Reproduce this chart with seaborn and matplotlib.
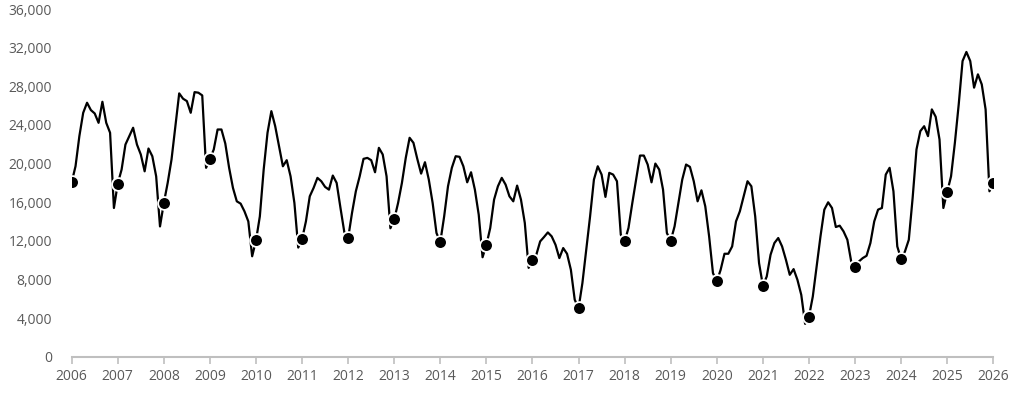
import numpy as np
import pandas as pd
import matplotlib
matplotlib.use("Agg")
import matplotlib.pyplot as plt
import seaborn as sns
from matplotlib.ticker import FuncFormatter

# monthly values, Jan 2006 .. Jan 2026 (one row per year)
values = [
    18060, 19720, 22840, 25260, 26300, 25540, 25190, 24220, 26400, 24220, 23190, 15400,  # 2006
    17930, 19380, 21970, 22840, 23710, 21970, 20940, 19200, 21560, 20760, 18680, 13490,  # 2007
    15920, 18000, 20420, 23870, 27270, 26720, 26470, 25260, 27400, 27340, 27060, 19560,  # 2008
    20490, 21460, 23530, 23530, 22080, 19560, 17480, 16090, 15850, 15050, 14010, 10400,  # 2009
    12040, 14530, 19380, 23190, 25430, 23870, 21800, 19720, 20350, 18680, 15920, 11300,  # 2010
    12190, 14010, 16610, 17480, 18520, 18170, 17580, 17300, 18760, 18000, 15400, 12900,  # 2011
    12290, 14880, 17130, 18680, 20490, 20590, 20350, 19100, 21630, 20940, 18680, 13300,  # 2012
    14220, 15920, 18000, 20590, 22670, 22150, 20490, 18960, 20140, 18340, 15920, 12810,  # 2013
    11880, 14530, 17650, 19560, 20760, 20700, 19720, 18060, 19100, 17300, 14710, 10300,  # 2014
    11590, 13330, 16270, 17650, 18520, 17820, 16610, 16090, 17720, 16270, 13850, 9200,   # 2015
    9970, 10560, 11940, 12390, 12870, 12460, 11590, 10210, 11250, 10660, 9000, 5900,     # 2016
    5020, 7620, 11080, 14530, 18340, 19720, 18860, 16550, 19040, 18860, 18170, 12630,    # 2017
    11940, 13330, 15920, 18340, 20830, 20830, 19900, 18060, 20000, 19380, 17300, 12810,  # 2018
    12010, 13490, 15920, 18340, 19900, 19660, 18170, 16090, 17230, 15570, 12460, 8660,   # 2019
    7790, 9000, 10660, 10660, 11420, 14010, 15050, 16610, 18170, 17650, 14530, 9700,     # 2020
    7370, 8300, 10560, 11770, 12290, 11420, 10040, 8480, 9070, 7960, 6400, 3400,         # 2021
    4150, 6230, 9340, 12460, 15230, 15990, 15400, 13430, 13570, 12980, 12110, 9860,      # 2022
    9340, 9860, 10210, 10450, 11770, 14010, 15230, 15400, 18860, 19560, 17130, 11420,    # 2023
    10110, 10900, 12110, 16440, 21460, 23360, 23870, 22840, 25610, 24850, 22490, 15400,  # 2024
    17070, 18680, 22150, 26130, 30620, 31560, 30620, 27860, 29240, 28200, 25610, 17130,  # 2025
    18000,                                                                               # 2026
]
years = list(range(2006, 2027))
y_ticks = [0, 4000, 8000, 12000, 16000, 20000, 24000, 28000, 32000, 36000]

df = pd.DataFrame({"t": 2006 + np.arange(len(values)) / 12, "value": values})
jan = df.iloc[::12]

sns.set_style("white")
plt.rcParams["font.family"] = ["Open Sans", "DejaVu Sans"]

fig = plt.figure(figsize=(10.24, 3.95), dpi=100)
ax = fig.add_axes([0.070, 0.097, 0.900, 0.880])

sns.lineplot(data=df, x="t", y="value", color="black", linewidth=1.6, ax=ax)
sns.scatterplot(data=jan, x="t", y="value", color="black", s=85,
                edgecolor="white", linewidth=1.3, zorder=3, ax=ax)

ax.set_xlim(2006, 2026)
ax.set_ylim(0, 36000)
ax.set_xticks(years)
ax.set_yticks(y_ticks)
ax.yaxis.set_major_formatter(FuncFormatter(lambda v, p: f"{int(v):,}"))
ax.set_xlabel("")
ax.set_ylabel("")

for s in ["top", "right", "left"]:
    ax.spines[s].set_visible(False)
ax.spines["bottom"].set_color("#BFBFBF")
ax.spines["bottom"].set_linewidth(1.5)
ax.tick_params(axis="x", colors="#595959", labelsize=10, length=5, width=1.2,
               direction="out", bottom=True, pad=4)
ax.tick_params(axis="x", color="#BFBFBF")
ax.tick_params(axis="y", colors="#595959", labelsize=10, length=0, pad=14)
ax.grid(False)

fig.savefig("out.png", dpi=100)
